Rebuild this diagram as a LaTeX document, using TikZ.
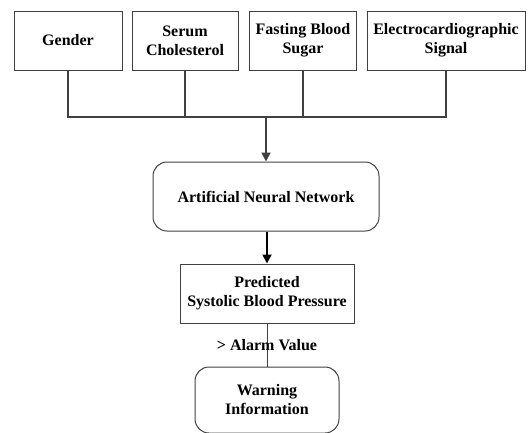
\documentclass[tikz,border=0pt]{standalone}
\usepackage{fontspec}
\setmainfont{Liberation Serif}
\usetikzlibrary{arrows.meta}

\tikzset{
  box/.style={draw=black!75, line width=1pt, align=center, inner sep=2pt,
              font=\bfseries\fontsize{16}{19}\selectfont},
  roundbox/.style={box, rounded corners=14pt},
  wire/.style={draw=black!75, line width=1.8pt},
  flow/.style={wire, -{Triangle[length=9pt,width=9pt]}}
}

\begin{document}
\begin{tikzpicture}[x=1pt,y=-1pt]
\useasboundingbox (0,0) rectangle (529,432);

% input boxes
\node[box, minimum width=108pt, minimum height=59pt] (gender) at (68,40.5) {Gender};
\node[box, minimum width=106pt, minimum height=59pt] (serum) at (185,40.5) {Serum\\Cholesterol};
\node[box, minimum width=107pt, minimum height=59pt] (sugar) at (303,40.5) {Fasting Blood\\Sugar};
\node[box, minimum width=158pt, minimum height=59pt] (ecg) at (446,40.5) {Electrocardiographic\\Signal};

\coordinate (bus) at (266,117);

\node[roundbox, minimum width=226pt, minimum height=69pt] (ann) at (266,196.5) {Artificial Neural Network};
\node[box, minimum width=174pt, minimum height=59pt] (sbp) at (267,293.5) {Predicted\\Systolic Blood Pressure};
\node[roundbox, minimum width=144pt, minimum height=66pt] (warn) at (267,400) {Warning\\Information};

% collect the inputs on one line
\foreach \n in {gender,serum,sugar,ecg}
  \draw[wire] (\n.south) |- (bus);

\draw[flow] (bus) -- (ann.north);
\draw[flow, draw=black] (ann.south -| sbp.north) -- (sbp.north);
\draw[draw=black!75, line width=1pt] (sbp.south) -- (warn.north)
  node[midway, font=\bfseries\fontsize{16}{19}\selectfont] (alarm) {> Alarm Value};

\end{tikzpicture}
\end{document}
